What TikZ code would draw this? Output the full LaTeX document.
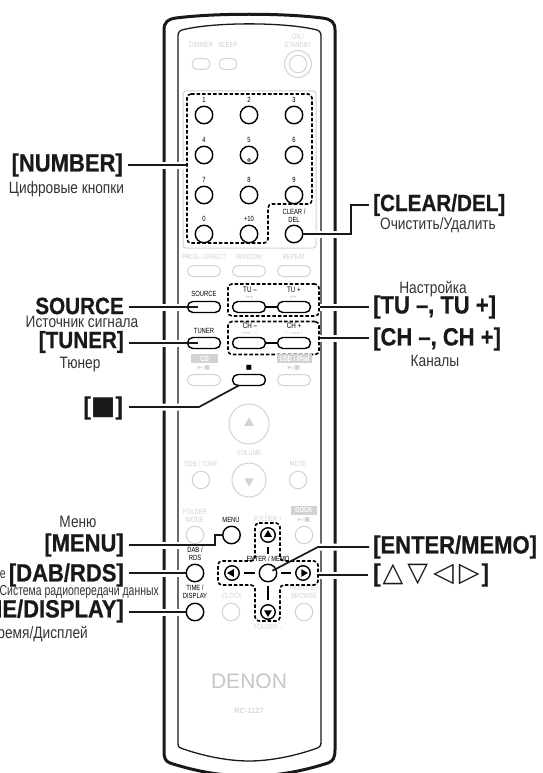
\documentclass[tikz,border=0pt]{standalone}
\usepackage{fontspec}
\setmainfont{Liberation Sans}
\newfontfamily\capfont[FakeStretch=0.88,FakeBold=0.6]{Liberation Sans}
\newfontfamily\subfont[FakeStretch=0.83]{Liberation Sans}
\newfontfamily\tightfont[FakeStretch=0.72]{Liberation Sans}
\newfontfamily\keyfont[FakeStretch=0.78]{Liberation Sans}
\newfontfamily\symfont{DejaVu Sans}
\definecolor{panelgray}{HTML}{D2D2D2}
\definecolor{logogray}{HTML}{C4C6CA}
\usetikzlibrary{arrows.meta, calc, backgrounds, shapes.geometric}
\newcommand{\ldr}[2][]{%
  \begin{scope}[on background layer]\draw[white, line width=7pt] #2;\end{scope}
  \draw[leader, #1] #2;}

\begin{document}
\begin{tikzpicture}[x=1pt, y=-1pt,
    leader/.style={line width=1.7pt, draw=black!90},
    caplbl/.style={font=\capfont\bfseries\fontsize{25}{25}\selectfont, inner sep=0pt, text=black!90},
    caplbs/.style={caplbl, font=\capfont\bfseries\fontsize{23.5}{25}\selectfont},
    sublbl/.style={font=\subfont\fontsize{16.5}{17}\selectfont, inner sep=0pt, text=black!80},
    sublbs/.style={sublbl, font=\tightfont\fontsize{14.5}{15}\selectfont},
    keylbl/.style={font=\keyfont\fontsize{7.5}{7.8}\selectfont, align=center, inner sep=0pt},
    keyoff/.style={keylbl, text=panelgray},
    btn/.style={circle, draw=black, line width=1.4pt, minimum size=17.5pt, inner sep=0pt},
    btnoff/.style={btn, draw=panelgray, line width=1pt},
    arw/.style={btn, minimum size=14.5pt},
    pill/.style={rectangle, rounded corners=5.4pt, draw=black, line width=1.4pt, minimum width=33pt, minimum height=11pt, inner sep=0pt},
    pilloff/.style={pill, draw=panelgray, line width=1pt},
    tri/.style={regular polygon, regular polygon sides=3, fill=black, minimum size=9pt, inner sep=0pt},
    tag/.style={fill=panelgray, text=white, font=\keyfont\bfseries\fontsize{7.5}{8}\selectfont, inner sep=0pt, minimum height=9pt},
    dashgrp/.style={line width=1.6pt, dash pattern=on 3.5pt off 2pt, rounded corners=4pt},
    dashbox/.style={dashgrp, draw, rectangle, inner sep=0pt}]
  \useasboundingbox (0,0) rectangle (542,773);
  \clip (0,0) rectangle (542,773);
  % remote body
  \begin{scope}[on background layer]
    \draw[line width=3pt, draw=black!90] (164,30) .. controls (164,22) and (168,19) .. (176,18) .. controls (215,13) and (283,13) .. (322,18) .. controls (331,19) and (335,22) .. (335,30) -- (335,750) .. controls (335,758) and (333,761) .. (328,763) .. controls (300,772) and (275,776) .. (249,776) .. controls (223,776) and (198,772) .. (170,763) .. controls (165,761) and (164,758) .. (164,750) -- cycle;
    \draw[line width=1.3pt, draw=black!90] (178,36) .. controls (178,32) and (180,30) .. (184,29.5) .. controls (215,22) and (283,22) .. (315,29.5) .. controls (319,30) and (321,32) .. (321,36) -- (321,742) .. controls (321,746) and (320,747) .. (316,748.5) .. controls (295,756) and (270,761) .. (249,761) .. controls (228,761) and (203,756) .. (182,748.5) .. controls (178,747) and (178,746) .. (178,742) -- cycle;
    \draw[draw=panelgray, line width=1pt, rounded corners=3pt] (183,91) rectangle (316,248);
  \end{scope}
  % top row
  \node[keyoff] (LDim) at (201,45) {DIMMER};
  \node[keyoff] (LSlp) at (228,45) {SLEEP};
  \node[keyoff] (LOn) at (298,41) {ON /\\STANDBY};
  \node[pilloff, minimum width=18pt] (BDim) at (201,64) {};
  \node[pilloff, minimum width=18pt] (BSlp) at (228,64) {};
  \node[btnoff, minimum size=27pt] (BOn) at (298,64) {};
  \node[btnoff] (BOni) at (298,64) {};
  % number keys
  \foreach \n/\x/\y in {1/204/115, 2/249/115, 3/294/115, 4/204/155, 5/249/155, 6/294/155, 7/204/195, 8/249/195, 9/294/195, 0/204/234, {+10}/249/234} {
    \node[btn] (B\n) at (\x,\y) {};
    \node[keylbl] (L\n) at (\x,\y-15) {\n};
  }
  \node[circle, draw, line width=0.7pt, minimum size=3pt, inner sep=0pt] (Bdot) at (249,160) {};
  \node[btn] (BClr) at (294,234) {};
  \node[keylbl] (LKClr) at (294,216) {CLEAR /\\DEL};
  \draw[dashgrp] (187,94) -- (312,94) -- (312,204) -- (268,204) -- (268,243) -- (187,243) -- cycle;
  % pills
  \foreach \t/\x in {{PROG / DIRECT}/204, RANDOM/249, REPEAT/294} {
    \node[keyoff] at (\x,257) {\t};
    \node[pilloff] at (\x,271) {};
  }
  \node[keylbl] (LKSrc) at (204,294) {SOURCE};
  \node[pill] (BSrc) at (204,307) {};
  \node[keylbl] (LKTun) at (204,331) {TUNER};
  \node[pill] (BTun) at (204,343) {};
  \node[keylbl, font=\keyfont\fontsize{8}{8}\selectfont] (LKTm) at (250,290) {TU –};
  \node[keylbl, font=\keyfont\fontsize{8}{8}\selectfont] (LKTp) at (294,290) {TU +};
  \node[keyoff, font=\symfont\fontsize{4.5}{5}\selectfont] (LSm) at (249,297) {◄◄};
  \node[keyoff, font=\symfont\fontsize{4.5}{5}\selectfont] (LSp) at (294,297) {►►};
  \node[pill] (BTm) at (249,307) {};
  \node[pill] (BTp) at (294,307) {};
  \draw[line width=1.2pt] (BTm) -- (BTp);
  \node[keylbl, font=\keyfont\fontsize{8}{8}\selectfont] (LKCm) at (250,326) {CH –};
  \node[keylbl, font=\keyfont\fontsize{8}{8}\selectfont] (LKCp) at (294,326) {CH +};
  \node[keyoff, font=\symfont\fontsize{4.5}{5}\selectfont] (LPm) at (249,333) {|◄◄ / ◁};
  \node[keyoff, font=\symfont\fontsize{4.5}{5}\selectfont] (LPp) at (294,333) {▷ / ►►|};
  \node[pill] (BCm) at (249,343) {};
  \node[pill] (BCp) at (294,343) {};
  \draw[line width=1.2pt] (BCm) -- (BCp);
  \node[dashbox, minimum width=91pt, minimum height=32pt] (GTU) at (273.5,300) {};
  \node[dashbox, minimum width=91pt, minimum height=33pt] (GCH) at (273.5,338) {};
  \node[tag, minimum width=27pt] (TCd) at (204.5,358.5) {CD};
  \node[tag, minimum width=35pt] (TUsb) at (294.5,358.5) {USB / iPod};
  \node[keyoff, font=\symfont\fontsize{6}{6}\selectfont] (LCd) at (204,368) {►/■};
  \node[keyoff, font=\symfont\fontsize{6}{6}\selectfont] (LUsb) at (294,368) {►/■};
  \node[keylbl, font=\symfont\fontsize{6.5}{6.5}\selectfont] (LKStop) at (249,368) {■};
  \node[pilloff] (BCd) at (204,380) {};
  \node[pill] (BStop) at (249,380) {};
  \node[pilloff] (BUsb) at (294,380) {};
  % volume
  \node[btnoff, minimum size=40pt] (BVu) at (249,424) {};
  \node[tri, fill=panelgray, minimum size=11pt] (TVu) at (249,423) {};
  \node[keyoff] (LVol) at (249,453) {VOLUME};
  \node[btnoff, minimum size=34pt] (BVd) at (249,480) {};
  \node[tri, fill=panelgray, minimum size=11pt, shape border rotate=180] (TVd) at (249,481) {};
  \node[keyoff] (LSdb) at (201,464) {SDB / TONE};
  \node[btnoff] (BSdb) at (201,480) {};
  \node[keyoff] (LMut) at (298,464) {MUTE};
  \node[btnoff] (BMut) at (298,480) {};
  % lower keys
  \node[keyoff] (LFm) at (195,516) {FOLDER\\MODE};
  \node[btnoff] (BFm) at (195,535) {};
  \node[keylbl] (LKMenu) at (231,520) {MENU};
  \node[btn] (BMenu) at (231.5,535) {};
  \node[keyoff] (LFp) at (268,519) {FOLDER +};
  \node[arw] (BUp) at (268,535) {};
  \node[tri] (TUp) at (268,534.5) {};
  \node[tag, minimum width=26pt] (TDock) at (304,510) {DOCK};
  \node[keyoff, font=\symfont\fontsize{6}{6}\selectfont] (LDock) at (304,520) {►/■};
  \node[btnoff] (BDock) at (304,535) {};
  \node[keylbl] (LKDab) at (195,554) {DAB /\\RDS};
  \node[btn] (BDab) at (195,573) {};
  \node[arw] (BLf) at (232,573) {};
  \node[tri, shape border rotate=90] (TLf) at (231.5,573) {};
  \node[btn] (BEnt) at (268,573) {};
  \node[keylbl] (LKEnt) at (268,559) {ENTER / MEMO};
  \node[arw] (BRt) at (303,573) {};
  \node[tri, shape border rotate=-90] (TRt) at (303.5,573) {};
  \node[keylbl] (LKTime) at (195,592) {TIME /\\DISPLAY};
  \node[btn] (BTime) at (195,612) {};
  \node[keyoff] (LClk) at (232,596) {CLOCK};
  \node[btnoff] (BClk) at (231,612) {};
  \node[arw] (BDn) at (268,612) {};
  \node[tri, shape border rotate=180] (TDn) at (268,612.5) {};
  \node[keyoff] (LRem) at (304,592) {REMOTE /\\BROWSE};
  \node[btnoff] (BRem) at (304,612) {};
  \node[keyoff] (LFd) at (268,627) {FOLDER –};
  \draw[dashgrp] (255,523) -- (280,523) -- (280,561) -- (318,561) -- (318,585) -- (280,585) -- (280,621) -- (255,621) -- (255,585) -- (218,585) -- (218,561) -- (255,561) -- cycle;
  \draw[line width=1.2pt, shorten <=4pt, shorten >=10pt] (BUp) -- (BEnt);
  \draw[line width=1.2pt, shorten <=4pt, shorten >=4pt] (BDn) -- (BEnt);
  \draw[line width=1.2pt, shorten <=4pt, shorten >=4pt] (BLf) -- (BEnt);
  \draw[line width=1.2pt, shorten <=4pt, shorten >=4pt] (BRt) -- (BEnt);
  % logo
  \node[text=logogray, font=\fontsize{21}{21}\selectfont, inner sep=0pt] (LLogo) at (249,681) {DENON};
  \node[text=logogray, font=\fontsize{7.5}{8}\selectfont, inner sep=0pt] (LModel) at (249,711) {RC-1127};
  % labels left
  \node[caplbl, anchor=east] (LNum) at (123,165) {[NUMBER]};
  \node[sublbl] (SNum) at (66.5,189) {Цифровые кнопки};
  \node[caplbs, anchor=east] (LSrc) at (124,306) {SOURCE};
  \node[sublbl] (SSrc) at (82,322) {Источник сигнала};
  \node[caplbs, anchor=east] (LTun) at (124,342) {[TUNER]};
  \node[sublbl] (STun) at (80,365) {Тюнер};
  \node[caplbl, anchor=east] (LStop) at (123,408) {[{\symfont\fontsize{26}{26}\selectfont ■}]};
  \node[sublbl] (SMenu) at (78,522) {Меню};
  \node[caplbl, anchor=east] (LMenu) at (124,545) {[MENU]};
  \node[sublbs, anchor=east] (SDig) at (6,575) {е};
  \node[caplbl, anchor=east] (LDab) at (124,575) {[DAB/RDS]};
  \node[sublbs, anchor=east] (SDab) at (159,592) {/Система радиопередачи данных};
  \node[caplbl, anchor=east] (LTime) at (124,611) {[TIME/DISPLAY]};
  \node[sublbl, anchor=east] (STime) at (88,634) {ремя/Дисплей};
  % labels right
  \node[caplbs, anchor=west] (LClr) at (373,205) {[CLEAR/DEL]};
  \node[sublbl] (SClr) at (438,225) {Очистить/Удалить};
  \node[sublbl] (STu) at (433,289) {Настройка};
  \node[caplbl, anchor=west] (LTu) at (373,307) {[TU –, TU +]};
  \node[caplbl, anchor=west] (LCh) at (373,339) {[CH –, CH +]};
  \node[sublbl] (SCh) at (435,361) {Каналы};
  \node[caplbl, anchor=west] (LEnt) at (373,547) {[ENTER/MEMO]};
  \node[caplbl, anchor=west] (LArr) at (373,575) {[\kern2pt{\symfont\fontsize{27}{27}\selectfont △\kern4pt▽\kern5pt◁\kern5pt▷}\kern2pt]};
  % leaders
  \coordinate (KNum) at (187,165);
  \coordinate (KStop) at (199,407);
  \coordinate (KMenu) at (215,545);
  \coordinate (KClr) at (351,234);
  \coordinate (KEnt) at (318,547);
  \coordinate (KArr) at (318,575);
  \ldr[shorten <=5pt]{(LNum.east |- KNum) -- (KNum)}
  \ldr[shorten <=5pt, shorten >=6pt]{(LSrc.east |- BSrc) -- (BSrc.center)}
  \ldr[shorten <=5pt, shorten >=6pt]{(LTun.east |- BTun) -- (BTun.center)}
  \ldr[shorten <=6pt, shorten >=11pt]{(LStop.east |- KStop) -- (KStop) -- (BStop.center)}
  \ldr[shorten <=5pt]{(LMenu.east) -- (KMenu) |- (BMenu)}
  \ldr[shorten <=5pt]{(LDab.east |- BDab) -- (BDab)}
  \ldr[shorten <=5pt]{(LTime.east |- BTime) -- (BTime)}
  \ldr[shorten >=4pt]{(BClr) -- (KClr) |- (LClr.west)}
  \ldr[shorten >=4pt]{(GTU.east |- BTp) -- (BTp -| LTu.west)}
  \ldr[shorten >=4pt]{(GCH.east) -- (GCH.east -| LCh.west)}
  \ldr[shorten <=5pt, shorten >=4pt]{(BEnt.center) -- (KEnt) -- (LEnt.west)}
  \ldr[shorten >=5pt]{(KArr) -- (KArr -| LArr.west)}
\end{tikzpicture}
\end{document}
